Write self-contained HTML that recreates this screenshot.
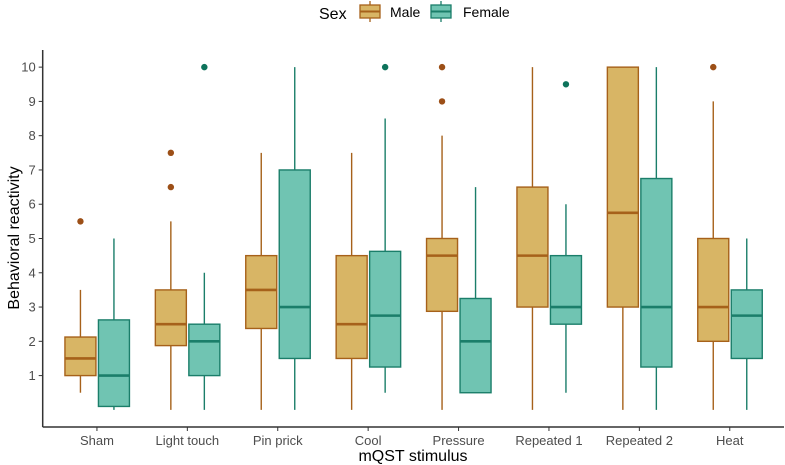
<!DOCTYPE html>
<html><head><meta charset="utf-8"><style>
body{margin:0;background:#fff;}
svg{font-family:"Liberation Sans",sans-serif;display:block}
</style></head><body>
<svg id="chart" width="785" height="465">
<g>
<text x="319" y="19" font-size="16" fill="#000">Sex</text>
<g>
<line x1="370" y1="1" x2="370" y2="22" stroke="#a6611a" stroke-width="1.3"/>
<rect x="360" y="5" width="20" height="13" fill="#d8b565" stroke="#a6611a" stroke-width="1.3"/>
<line x1="360" y1="11.5" x2="380" y2="11.5" stroke="#a6611a" stroke-width="2"/>
<text x="390" y="17" font-size="14" fill="#000">Male</text>
</g>
<g>
<line x1="441" y1="1" x2="441" y2="22" stroke="#1b7e6a" stroke-width="1.3"/>
<rect x="431" y="5" width="20" height="13" fill="#70c4b2" stroke="#1b7e6a" stroke-width="1.3"/>
<line x1="431" y1="11.5" x2="451" y2="11.5" stroke="#1b7e6a" stroke-width="2"/>
<text x="463" y="17" font-size="14" fill="#000">Female</text>
</g>
</g>
<g id="plot"></g>
<text x="0" y="0" transform="translate(19,238) rotate(-90)" text-anchor="middle" font-size="16" fill="#000">Behavioral reactivity</text>
<text x="413" y="461" text-anchor="middle" font-size="16" fill="#000">mQST stimulus</text>
</svg>
<script>
const categories=["Sham","Light touch","Pin prick","Cool","Pressure","Repeated 1","Repeated 2","Heat"];
// [lower whisker, q1, median, q3, upper whisker]
const maleStats=[[0.5,1,1.5,2.125,3.5],[0,1.875,2.5,3.5,5.5],[0,2.375,3.5,4.5,7.5],[0,1.5,2.5,4.5,7.5],[0,2.875,4.5,5,8],[0,3,4.5,6.5,10],[0,3,5.75,10,10],[0,2,3,5,9]];
const femaleStats=[[0,0.1,1,2.625,5],[0,1,2,2.5,4],[0,1.5,3,7,10],[0.5,1.25,2.75,4.625,8.5],[0.5,0.5,2,3.25,6.5],[0.5,2.5,3,4.5,6],[0,1.25,3,6.75,10],[0,1.5,2.75,3.5,5]];
const maleOutliers=[[5.5],[6.5,7.5],[],[],[9,10],[],[],[10]];
const femaleOutliers=[[],[10],[],[10],[],[9.5],[],[]];
const yTicks=[1,2,3,4,5,6,7,8,9,10];

const NS="http://www.w3.org/2000/svg";
const plotG=document.getElementById('plot');
const yMin=-0.5,yMax=10.5,plotTop=50,plotBot=427;
const yS=v=>plotBot-(v-yMin)/(yMax-yMin)*(plotBot-plotTop);
const xL=42.7,xR=784,nCat=categories.length;
const xS=i=>xL+(i+1-0.4)/(nCat+0.2)*(xR-xL);
function el(t,a,p){const e=document.createElementNS(NS,t);for(const k in a)e.setAttribute(k,a[k]);(p||plotG).appendChild(e);return e;}
const ax=el('line',{x1:xL,y1:plotBot,x2:xR,y2:plotBot,stroke:'#333','stroke-width':1.5});


const ay=el('line',{x1:xL,y1:plotTop,x2:xL,y2:plotBot,stroke:'#333','stroke-width':1.5});


yTicks.forEach(t=>{
  el('line',{x1:xL-4,y1:yS(t),x2:xL,y2:yS(t),stroke:'#333','stroke-width':1});
  const tx=el('text',{x:xL-7,y:yS(t)+4.5,'text-anchor':'end','font-size':13,fill:'#4d4d4d'});
  tx.textContent=t;
  
  
});
categories.forEach((c,i)=>{
  el('line',{x1:xS(i),y1:plotBot,x2:xS(i),y2:plotBot+4,stroke:'#333','stroke-width':1});
  const tx=el('text',{x:xS(i),y:plotBot+18,'text-anchor':'middle','font-size':13,fill:'#4d4d4d'});
  tx.textContent=c;
  
  
});
function box(i,s,outs,off,fill,stroke,ocol,name){
  const cx=xS(i)+off,w=31;
  const grp=el('g',{});
  
  
  el('line',{x1:cx,y1:yS(s[0]),x2:cx,y2:yS(s[4]),stroke:stroke,'stroke-width':1.4},grp);
  el('rect',{x:cx-w/2,y:yS(s[3]),width:w,height:yS(s[1])-yS(s[3]),fill:fill,stroke:stroke,'stroke-width':1.4},grp);
  el('line',{x1:cx-w/2,y1:yS(s[2]),x2:cx+w/2,y2:yS(s[2]),stroke:stroke,'stroke-width':2.6},grp);
  outs.forEach(o=>{const c=el('circle',{cx:cx,cy:yS(o),r:3.2,fill:ocol},grp);
    
    });
}
categories.forEach((c,i)=>{
  box(i,maleStats[i],maleOutliers[i],-16.5,'#d8b565','#a6611a','#9c4f17','box-male');
  box(i,femaleStats[i],femaleOutliers[i],17,'#70c4b2','#1b7e6a','#0e735b','box-female');
});
</script>
</body></html>
